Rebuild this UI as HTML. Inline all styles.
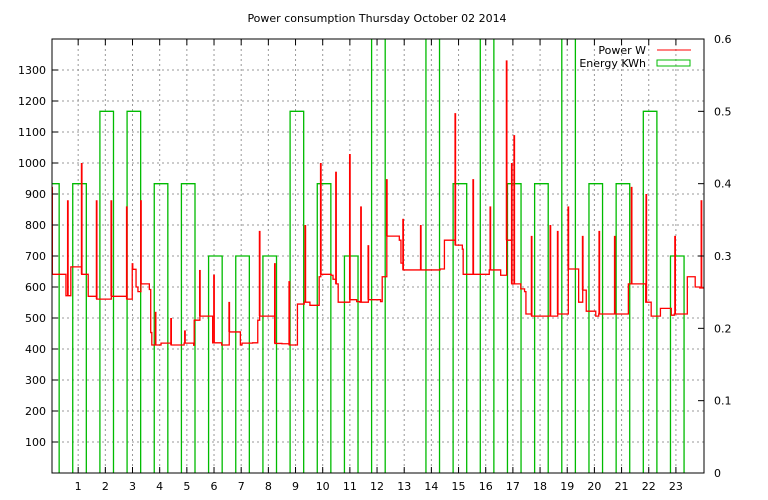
<!DOCTYPE html>
<html><head><meta charset="utf-8"><style>
body{margin:0;background:#fff;}
svg{display:block;font-family:"DejaVu Sans","Liberation Sans",sans-serif;font-size:11px;}
</style></head><body>
<svg id="chart" width="768" height="500" viewBox="0 0 768 500">
<text x="377" y="22" text-anchor="middle">Power consumption Thursday October 02 2014</text>
<defs><clipPath id="pc"><rect x="52" y="39" width="652" height="434"/></clipPath></defs>
<g id="grid"></g>
<g id="energy" clip-path="url(#pc)"></g>
<g id="power" clip-path="url(#pc)"></g>
<rect x="52" y="39" width="652" height="434" fill="none" stroke="#000"/>
<g id="axes"></g>
<g>
<text x="646" y="54" text-anchor="end">Power W</text>
<line x1="657" y1="50" x2="691" y2="50" stroke="#f00" stroke-width="1"/>
<text x="646" y="67" text-anchor="end">Energy KWh</text>
<rect x="657" y="60" width="33" height="6" fill="none" stroke="#0b0"/>
</g>
</svg>
<script>
const hourLabels=[1,2,3,4,5,6,7,8,9,10,11,12,13,14,15,16,17,18,19,20,21,22,23];
const wattTicks=[100,200,300,400,500,600,700,800,900,1000,1100,1200,1300];
const kwhTicks=[0,0.1,0.2,0.3,0.4,0.5,0.6];
const energyHour=[0,1,2,3,4,5,6,7,8,9,10,11,12,13,14,15,16,17,18,19,20,21,22,23];
const energyKwh=[0.4,0.4,0.5,0.5,0.4,0.4,0.3,0.3,0.3,0.5,0.4,0.3,0.65,0,0.65,0.4,0.65,0.4,0.4,0.65,0.4,0.4,0.5,0.3];
const stepT=[0.04,0.55,0.73,1.13,1.37,1.68,2.22,2.79,2.99,3.13,3.20,3.31,3.62,3.67,3.71,4.05,4.42,4.90,5.25,5.27,5.48,5.95,6.28,6.56,6.97,7.03,7.42,7.61,7.68,8.24,8.50,8.77,9.07,9.32,9.53,9.87,9.93,10.31,10.38,10.49,10.57,11.00,11.25,11.37,11.68,12.13,12.19,12.36,12.82,12.88,12.96,14.32,14.48,14.88,15.14,15.17,16.13,16.55,16.77,16.96,17.29,17.43,17.48,17.69,18.65,19.04,19.42,19.57,19.70,20.05,20.16,21.25,21.89,22.09,22.43,22.83,22.94,23.42,23.71,23.88];
const stepW=[641,572,665,641,570,561,570,561,657,600,585,610,592,453,413,419,413,419,412,493,506,420,413,455,413,419,420,493,506,418,417,413,545,551,541,633,641,638,625,610,551,559,553,551,559,553,633,764,751,677,655,658,751,735,722,641,655,638,751,610,594,585,513,506,513,658,551,590,522,506,513,610,551,506,531,509,513,633,600,597];
const spikeT=[0.04,0.62,1.13,1.68,2.22,2.79,3.00,3.31,3.85,4.42,4.93,5.48,6.00,6.56,7.68,8.24,8.77,9.36,9.93,10.49,11.00,11.41,11.68,12.36,12.96,13.61,14.88,15.54,16.17,16.77,16.96,17.05,17.69,18.38,18.65,19.04,19.57,20.18,20.75,21.37,21.91,22.97,23.94];
const spikeW=[923,880,1000,880,880,860,677,880,520,500,460,655,640,552,781,677,619,800,1000,972,1029,860,735,948,820,800,1161,948,860,1331,1000,1090,765,800,781,860,765,781,765,923,900,765,880];
const NS="http://www.w3.org/2000/svg";
const X0=52,X1=704,Y0=473,Y1=39;
const xS=h=>X0+(h-0.04)*(X1-X0)/23.96+ (h<0.04?0:0);
const xH=h=>51+h*27.17;
const yW=w=>Y0-w*(Y0-Y1)/1400;
const yK=k=>Y0-k*(Y0-Y1)/0.6;
function mk(tag,attrs,parent){const e=document.createElementNS(NS,tag);for(const k in attrs)e.setAttribute(k,attrs[k]);parent.appendChild(e);return e;}
const grid=document.getElementById('grid'),axes=document.getElementById('axes');
hourLabels.forEach(h=>{
  const x=xH(h);
  const g=mk('line',{x1:x,y1:Y1,x2:x,y2:Y0,stroke:'#999','stroke-dasharray':'2,3'},grid);
  
  
  const t1=mk('line',{x1:x,y1:Y0,x2:x,y2:Y0-6,stroke:'#000'},axes);
  
  
  const t2=mk('line',{x1:x,y1:Y1,x2:x,y2:Y1+6,stroke:'#000'},axes);
  
  
  const tx=mk('text',{x:x,y:490,'text-anchor':'middle'},axes);tx.textContent=h;
  
  
});
wattTicks.forEach(w=>{
  const y=yW(w);
  const g=mk('line',{x1:X0,y1:y,x2:X1,y2:y,stroke:'#999','stroke-dasharray':'2,3'},grid);
  
  
  const t=mk('line',{x1:X0,y1:y,x2:X0+6,y2:y,stroke:'#000'},axes);
  
  
  const tx=mk('text',{x:46,y:y+4,'text-anchor':'end'},axes);tx.textContent=w;
  
  
});
kwhTicks.forEach(k=>{
  const y=yK(k);
  const t=mk('line',{x1:X1,y1:y,x2:X1-6,y2:y,stroke:'#000'},axes);
  
  
  const tx=mk('text',{x:714,y:y+4},axes);tx.textContent=k;
  
  
});
const en=document.getElementById('energy');
energyHour.forEach((h,i)=>{
  if(energyKwh[i]<=0)return;
  const xa=xH(h-0.2),xb=xH(h+0.3),y=yK(energyKwh[i]);
  const p=mk('path',{d:`M${xa},${Y0}V${y}H${xb}V${Y0}`,fill:'none',stroke:'#0b0','stroke-width':1.3},en);
  
  
});
const pw=document.getElementById('power');
let d='';
for(let i=0;i<stepT.length;i++){
  const x=xH(stepT[i]),y=yW(stepW[i]);
  d+= i===0?`M${x},${y}`:`V${y}`;
  const xe=i+1<stepT.length?xH(stepT[i+1]):X1;
  d+=`H${xe}`;
}
const pl=mk('path',{d:d,fill:'none',stroke:'#f00','stroke-width':1.3},pw);


function levelAt(t){let w=stepW[0];for(let i=0;i<stepT.length;i++){if(stepT[i]<=t)w=stepW[i];}return w;}
spikeT.forEach((t,i)=>{
  const x=xH(t);
  const s=mk('line',{x1:x,y1:yW(levelAt(t)),x2:x,y2:yW(spikeW[i]),stroke:'#f00','stroke-width':1.8},pw);
  
  
});
</script>
</body></html>
